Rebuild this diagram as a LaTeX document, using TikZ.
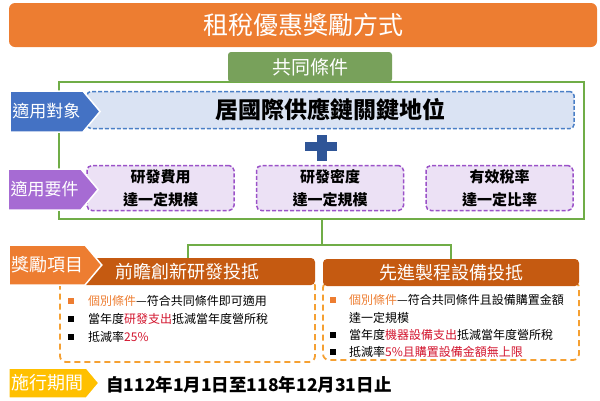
\documentclass[tikz,border=0pt]{standalone}
\usepackage{fontspec}
\setmainfont{Noto Sans CJK TC}
\usepackage{xcolor}
\usepackage{tikz}
\usetikzlibrary{shapes.symbols, positioning}
\definecolor{titleorange}{HTML}{ED7D31}
\definecolor{framegreen}{HTML}{70AD47}
\definecolor{boxgreen}{HTML}{78A15B}
\definecolor{tagblue}{HTML}{4472C4}
\definecolor{lightblue}{HTML}{DAE3F3}
\definecolor{dashblue}{HTML}{4A7FC6}
\definecolor{plusblue}{HTML}{2F5597}
\definecolor{tagpurple}{HTML}{A66BD3}
\definecolor{lightpurple}{HTML}{ECE1F5}
\definecolor{dashpurple}{HTML}{9B52C8}
\definecolor{hdrorange}{HTML}{C55A11}
\definecolor{dashorange}{HTML}{F5A032}
\definecolor{tagyellow}{HTML}{FFC000}
\definecolor{hlred}{HTML}{D2142D}
\newcommand{\sqbul}[1]{\textcolor{#1}{\raisebox{1.6pt}{\rule{6pt}{6pt}}}}
\newcommand{\redtxt}[1]{\textcolor{hlred}{#1}}
\tikzstyle{banner} = [rectangle, rounded corners=6pt, fill=titleorange, text=white, font=\fontsize{25}{30}\selectfont, minimum width=588pt, minimum height=44pt]
\tikzstyle{frame} = [rectangle, draw=framegreen, line width=2pt, minimum width=525pt, minimum height=137pt]
\tikzstyle{greenbox} = [rectangle, rounded corners=3pt, fill=boxgreen, text=white, font=\fontsize{19}{22}\selectfont, minimum width=164pt, minimum height=30pt]
\tikzstyle{bluebox} = [rectangle, rounded corners=4pt, draw=dashblue, dash pattern=on 4pt off 2pt, line width=1.5pt, fill=lightblue, font=\fontsize{23}{26}\selectfont\bfseries, minimum width=487pt, minimum height=37pt]
\tikzstyle{purplebox} = [rectangle, rounded corners=5pt, draw=dashpurple, dash pattern=on 4pt off 2pt, line width=1.5pt, fill=lightpurple, font=\fontsize{15}{23}\selectfont\bfseries, align=center, minimum width=147pt, minimum height=45pt, inner sep=0pt]
\tikzstyle{tag} = [signal, signal to=east, signal pointer angle=100, draw=white, line width=1.5pt, text=white, font=\fontsize{17}{20}\selectfont, inner sep=2pt]
\tikzstyle{header} = [rectangle, rounded corners=4pt, fill=hdrorange, text=white, font=\fontsize{18}{21}\selectfont, minimum height=27pt]
\tikzstyle{dashbox} = [rectangle, rounded corners=6pt, draw=dashorange, dash pattern=on 6pt off 4pt, line width=1.8pt]
\tikzstyle{listtext} = [anchor=north west, inner sep=0pt, font=\fontsize{12}{18}\selectfont]
\tikzstyle{link} = [draw=framegreen, line width=2pt]

\begin{document}
\begin{tikzpicture}[x=1pt, y=-1pt]
  \useasboundingbox (0,0) rectangle (600,400);

  \node (title) [banner] at (303,25) {租稅優惠獎勵方式};

  % common conditions
  \node (frame) [frame] at (321.5,150.5) {};
  \node (common) [greenbox] at (310,67) {共同條件};

  \node (target) [bluebox] at (330.5,110) {居國際供應鏈關鍵地位};
  \node (target tag) [tag, fill=tagblue, minimum width=90pt, minimum height=41pt] at (46.5,111.5) {適用對象};

  \fill [plusblue] (305,142) rectangle (337,151);
  \fill [plusblue] (317,135) rectangle (327,161);

  \node (req a) [purplebox] at (160.5,188) {研發費用\\達一定規模};
  \node (req b) [purplebox] at (330,188) {研發密度\\達一定規模};
  \node (req c) [purplebox] at (499.5,188) {有效稅率\\達一定比率};
  \node (req tag) [tag, fill=tagpurple, minimum width=90pt, minimum height=41pt] at (44.5,189.5) {適用要件};

  % reward items
  \node (rd box) [dashbox, minimum width=255pt, minimum height=82pt] at (187.5,321) {};
  \node (eq box) [dashbox, minimum width=256pt, minimum height=78pt] at (451,321) {};
  \node (hdr rd) [header, minimum width=255pt] at (187.5,271.5) {前瞻創新研發投抵};
  \node (hdr eq) [header, minimum width=256pt] at (451,272.5) {先進製程設備投抵};
  \node (reward tag) [tag, fill=titleorange, font=\fontsize{18}{21}\selectfont, minimum width=87pt, minimum height=40pt] at (47,265) {獎勵項目};

  \coordinate [below=25pt of frame.south] (split);
  \draw [link] (frame.south) -- (split);
  \draw [link] (hdr rd.north) |- (split) -| (hdr eq.north);

  \node (rd list) [listtext] at (68,293) {\begin{tabular}{@{}l@{\hspace{14pt}}l@{}}
    \sqbul{titleorange} & \textcolor{titleorange}{個別條件}—符合共同條件即可適用\\
    \sqbul{black} & 當年度\redtxt{研發支出}抵減當年度營所稅\\
    \sqbul{black} & 抵減率\redtxt{25\%}
  \end{tabular}};
  \node (eq list) [listtext, font=\fontsize{12}{17.4}\selectfont] at (330,292.4) {\begin{tabular}{@{}l@{\hspace{13pt}}l@{}}
    \sqbul{titleorange} & \textcolor{titleorange}{個別條件}—符合共同條件且設備購置金額\\
    & 達一定規模\\
    \sqbul{black} & 當年度\redtxt{機器設備支出}抵減當年度營所稅\\
    \sqbul{black} & 抵減率\redtxt{5\%且購置設備金額無上限}
  \end{tabular}};

  % period
  \node (period tag) [tag, fill=tagyellow, font=\fontsize{18}{21}\selectfont, minimum width=90pt, minimum height=30pt] at (47.7,383) {施行期間};
  \node (period) [anchor=west, inner sep=0pt, font=\fontsize{17.5}{21}\selectfont\bfseries] at (106,385) {自112年1月1日至118年12月31日止};

\end{tikzpicture}
\end{document}
